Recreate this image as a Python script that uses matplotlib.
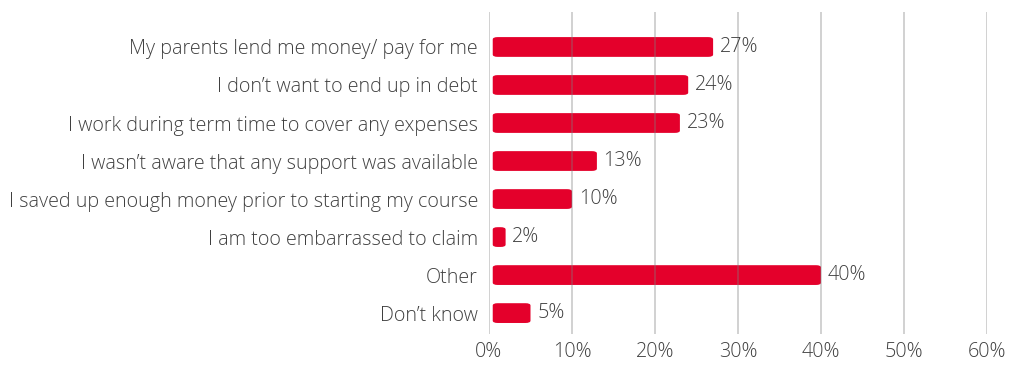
import matplotlib.pyplot as plt
from matplotlib.patches import FancyBboxPatch

categories = [
    "My parents lend me money/ pay for me",
    "I don\u2019t want to end up in debt",
    "I work during term time to cover any expenses",
    "I wasn\u2019t aware that any support was available",
    "I saved up enough money prior to starting my course",
    "I am too embarrassed to claim",
    "Other",
    "Don\u2019t know",
]
values = [27, 24, 23, 13, 10, 2, 40, 5]
xticks = [0, 10, 20, 30, 40, 50, 60]

RED = "#E4002B"
TEXT = "#404040"
FONT = ["Open Sans", "DejaVu Sans"]
FS = 14.2

plt.rcParams["font.family"] = FONT
plt.rcParams["font.weight"] = "light"

fig = plt.figure(figsize=(10.19, 3.67), dpi=100)
ax = fig.add_axes([489 / 1019, 1 - 334 / 367, 498 / 1019, 322 / 367])

bar_h = 0.52
inset = 0.45  # small gap between the axis line and the bar start
for i, v in enumerate(values):
    patch = FancyBboxPatch(
        (inset, i - bar_h / 2), v - inset, bar_h,
        boxstyle="round,pad=0,rounding_size=0.6",
        mutation_aspect=0.1,
        facecolor=RED, edgecolor="none", zorder=2,
    )
    ax.add_patch(patch)
    ax.text(v + 0.8, i, f"{v}%", va="center", ha="left",
            fontsize=FS, color=TEXT, zorder=4)

ax.set_xlim(0, 60)
ax.set_ylim(7.55, -0.92)
ax.set_xticks(xticks)
ax.set_xticklabels([f"{t}%" for t in xticks], fontsize=FS, color=TEXT)
ax.set_yticks(range(len(categories)))
ax.set_yticklabels(categories, fontsize=FS, color=TEXT)
ax.tick_params(axis="both", length=0)
ax.tick_params(axis="y", pad=8)
ax.tick_params(axis="x", pad=6)

for t in xticks:
    ax.axvline(t, color="#7f7f7f", alpha=0.45, lw=1.1, zorder=3)
for s in ax.spines.values():
    s.set_visible(False)

fig.savefig("out.png", dpi=100)
